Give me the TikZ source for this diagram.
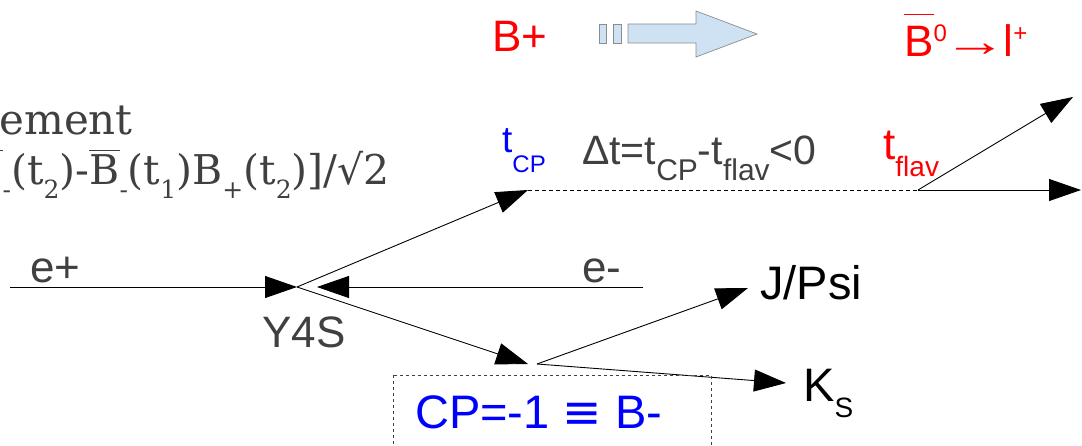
\documentclass[tikz,border=0pt]{standalone}
\usepackage{fontspec}
\setmainfont{Liberation Sans}
\newfontfamily\seriffam{DejaVu Serif}
\newfontfamily\djv{DejaVu Sans}
\usetikzlibrary{arrows.meta}
\definecolor{txtgray}{HTML}{404040}
\definecolor{arrowfill}{HTML}{CFE2F3}
\definecolor{arrowedge}{HTML}{8C8C8C}
\newcommand\lsub[3]{\raisebox{-#1pt}{\fontsize{#2}{#2}\selectfont #3}}
\newcommand\hsup[3]{\raisebox{#1pt}{\fontsize{#2}{#2}\selectfont #3}}
\newcommand\ovl[3]{\setbox0\hbox{#3}\rlap{\raisebox{#1}{\rule{\wd0}{#2}}}\box0}
\begin{document}
\begin{tikzpicture}[x=1pt,y=-1pt,
  lbl/.style={inner sep=0pt, anchor=base west, text=txtgray},
  bigfont/.style={font=\fontsize{44}{48}\selectfont},
  track/.style={line width=0.9pt, -{Triangle[length=32pt,width=22pt]}},
  flight/.style={line width=0.8pt, dash pattern=on 4pt off 3pt},
  cpbox/.style={line width=0.7pt, draw=txtgray, dash pattern=on 3pt off 3pt},
  blockarrow/.style={fill=arrowfill, draw=arrowedge, line width=0.7pt}]
\useasboundingbox (0,0) rectangle (1082,446);
\clip (0,0) rectangle (1082,446);

% coordinates
\coordinate (eplus) at (10,287);
\coordinate (y4s) at (297,287);
\coordinate (eminus) at (643,287);
\coordinate (eminustip) at (317,287);
\coordinate (tcp) at (528,190);
\coordinate (tflav) at (918,190);
\coordinate (lepA) at (1073,97);
\coordinate (lepB) at (1081,190);
\coordinate (bcpin) at (528,364);
\coordinate (bcp) at (537,364);
\coordinate (jpsi) at (748,288);
\coordinate (ks) at (786,383);

% connectors
\draw[track] (eplus) -- (y4s);
\draw[track] (eminus) -- (eminustip);
\draw[track] (y4s) -- (tcp);
\draw[track] (y4s) -- (bcpin);
\draw[flight] (tcp) -- (tflav);
\draw[track] (tflav) -- (lepA);
\draw[track] (tflav) -- (lepB);
\draw[track] (bcp) -- (jpsi);
\draw[track] (bcp) -- (ks);

% dashed box
\draw[cpbox] (393,375) rectangle (711,470);

% block arrow
\draw[blockarrow] (599,24) rectangle (606,43);
\draw[blockarrow] (613,24) rectangle (621,43);
\draw[blockarrow] (628,24) -- (696,24) -- (696,11) -- (757,34) -- (696,57) -- (696,43) -- (628,43) -- cycle;

% texts
\node[lbl, anchor=base east, font={\seriffam\fontsize{42}{48}\selectfont}] (ent) at (133,135) {Entanglement};
\node[lbl, anchor=base east, font={\seriffam\fontsize{41}{48}\selectfont}] (state) at (390,185)
  {[B\lsub{14}{25}{+}(t\lsub{14}{25}{1})\ovl{34pt}{1.4pt}{B}\lsub{14}{25}{-}(t\lsub{14}{25}{2})-\ovl{34pt}{1.4pt}{B}\lsub{14}{25}{-}(t\lsub{14}{25}{1})B\lsub{14}{25}{+}(t\lsub{14}{25}{2})]/√2};

\node[lbl, bigfont] (eplustxt) at (30,283) {e+};
\node[lbl, bigfont] (eminustxt) at (582,283) {e-};
\node[lbl, bigfont] (y4stxt) at (262,348) {Y4S};
\node[lbl, font=\fontsize{47}{50}\selectfont, text=black] (jpsitxt) at (760,300) {J/Psi};
\node[lbl, font=\fontsize{47}{50}\selectfont, text=black] (kstxt) at (803,402) {K\lsub{15}{28}{S}};
\node[lbl, font=\fontsize{47}{50}\selectfont, text=blue] (cptxt) at (415,428) {CP=-1 {\djv ≡} B-};
\node[lbl, bigfont, text=red] (bplus) at (492,52) {B+};
\node[lbl, bigfont, text=red] (bzero) at (904,57) {\ovl{42pt}{1.3pt}{B}\hsup{15}{24}{0}\kern-3pt\scalebox{1.45}[1]{→}\kern-4pt l\hsup{15}{24}{+}};
\node[lbl, font=\fontsize{37}{40}\selectfont, text=blue] (tcptxt) at (502,153) {t\lsub{20}{24}{CP}};
\node[lbl, font=\fontsize{41}{44}\selectfont] (dttxt) at (582,165) {Δt=t\lsub{16}{30}{CP}-t\lsub{16}{30}{flav}<0};
\node[lbl, font=\fontsize{44}{48}\selectfont, text=red] (tflavtxt) at (883,160) {t\lsub{17}{28}{flav}};
\end{tikzpicture}
\end{document}
